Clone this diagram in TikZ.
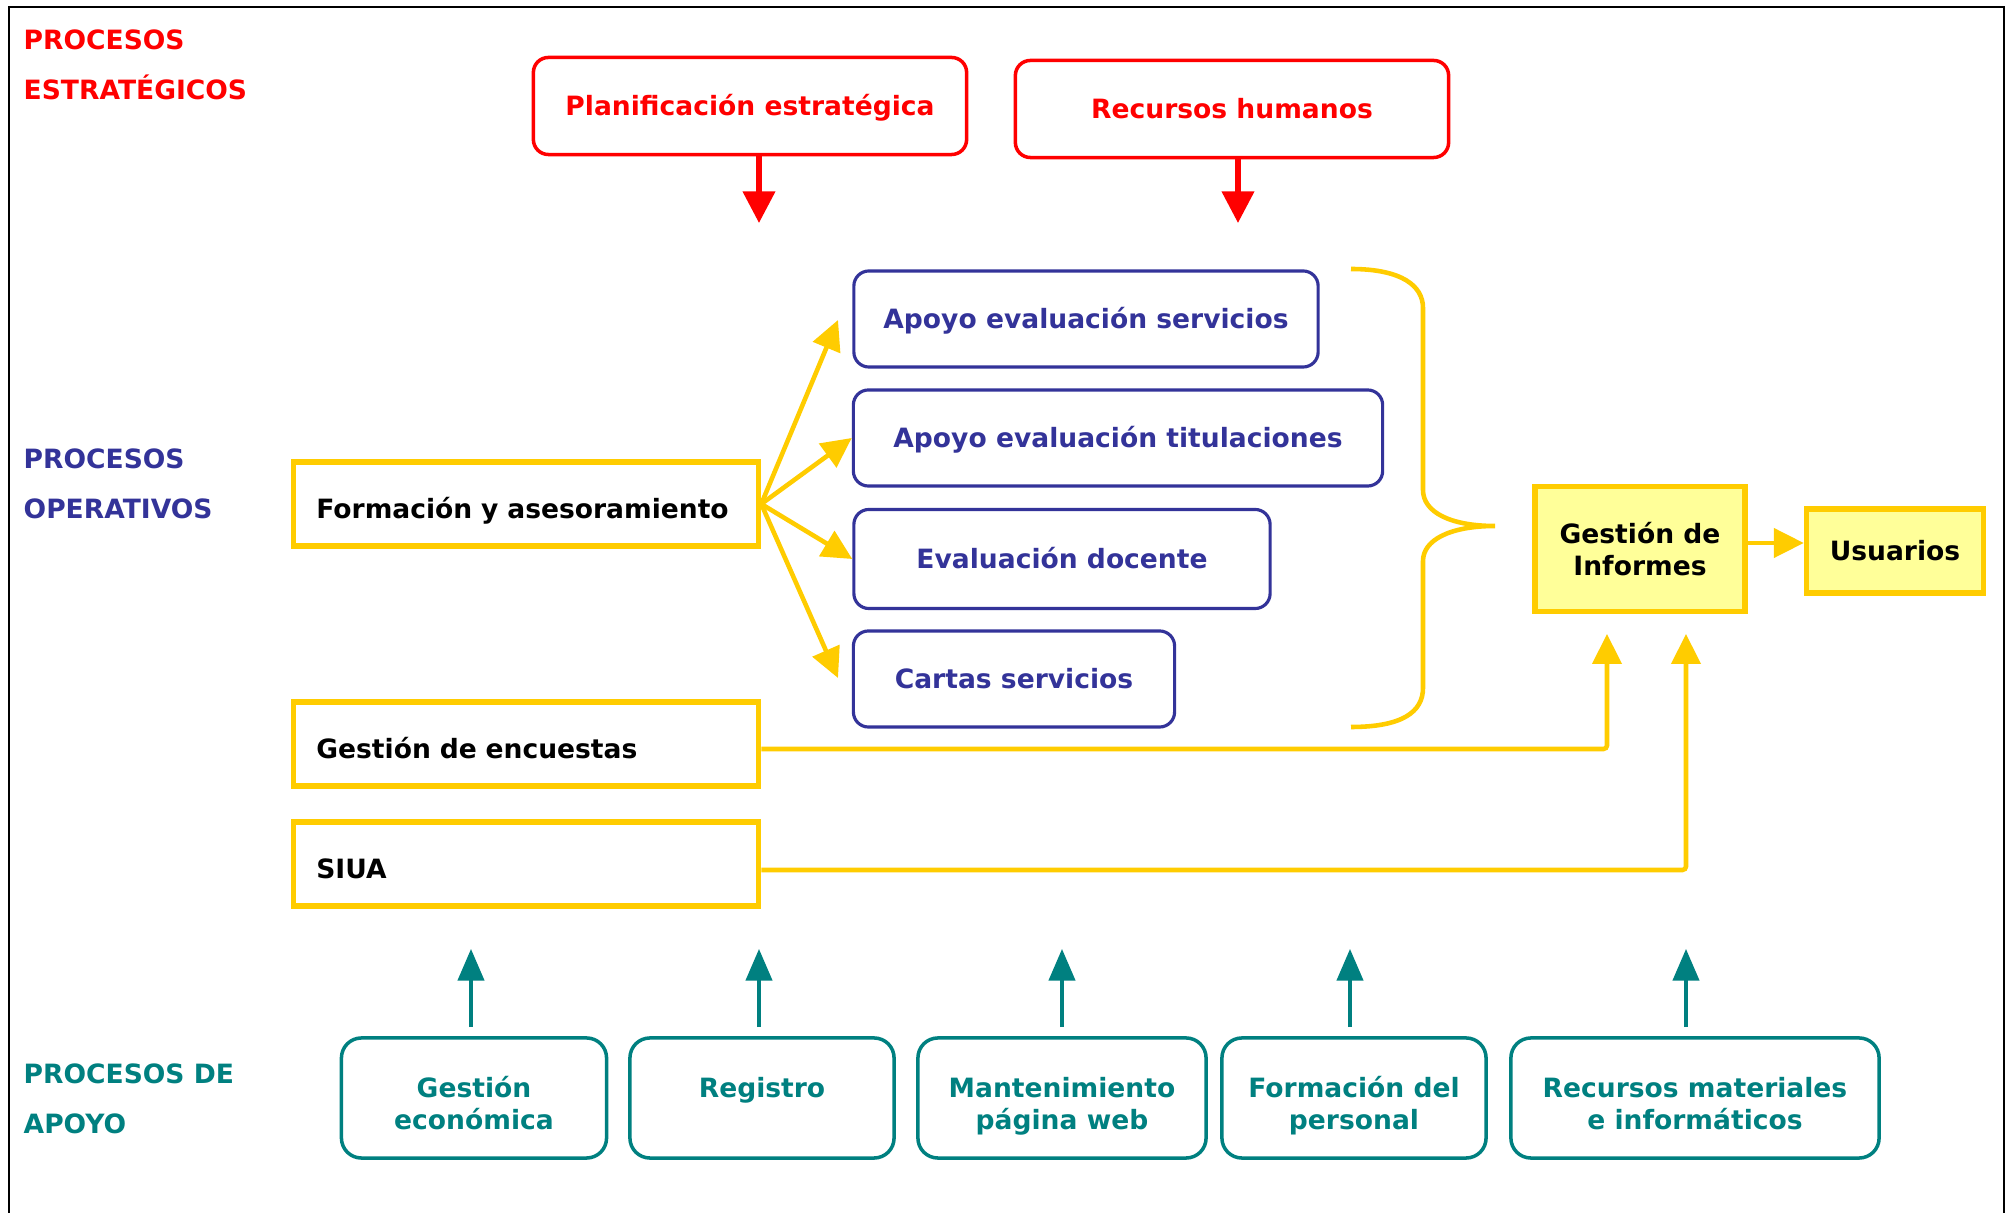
\documentclass[tikz,border=0pt]{standalone}
\usepackage{fontspec}
\setmainfont{DejaVu Sans}
\usepackage{tikz}
\usetikzlibrary{arrows.meta,positioning}
\definecolor{procred}{HTML}{FF0000}
\definecolor{procnavy}{HTML}{333399}
\definecolor{procgold}{HTML}{FFCC00}
\definecolor{procpale}{HTML}{FFFF99}
\definecolor{procteal}{HTML}{008080}
\tikzset{
  boxtext/.style={font=\bfseries\fontsize{7.55}{9.1}\selectfont,align=center,inner sep=0pt},
  grouplab/.style={font=\bfseries\fontsize{7.55}{14.2}\selectfont,align=left,anchor=west,inner sep=0pt},
  estnode/.style={boxtext,draw=procred,text=procred,line width=1pt,rounded corners=1.5mm,minimum width=4.33cm,minimum height=0.97cm,text height=5.5pt,text depth=0pt},
  opnode/.style={boxtext,draw=procnavy,text=procnavy,line width=0.9pt,rounded corners=1.5mm,minimum height=0.96cm,text height=5.5pt,text depth=0pt},
  flownode/.style={boxtext,draw=procgold,line width=1.5pt,text width=4.19cm,inner xsep=0.23cm,align=left,minimum height=0.84cm,text height=8.4pt,text depth=0pt},
  infnode/.style={boxtext,draw=procgold,fill=procpale,line width=1.5pt},
  apnode/.style={boxtext,draw=procteal,text=procteal,line width=1pt,rounded corners=2mm,minimum height=1.2cm,text height=18.2pt,text depth=0pt},
  estedge/.style={-{Triangle[length=9pt,width=9pt]},line width=1.5pt,procred},
  flowedge/.style={-{Triangle[length=8.5pt,width=8.2pt]},line width=1.3pt,procgold},
  apedge/.style={-{Triangle[length=9pt,width=7.5pt]},line width=0.9pt,procteal},
}

\begin{document}
\begin{tikzpicture}[x=0.01cm,y=-0.01cm]
  \useasboundingbox (0,0) rectangle (2011,1213);
  \draw[line width=0.7pt] (9,1213) -- (9,7) -- (2004,7) -- (2004,1213);
  % group labels
  \node[grouplab,text=procred] (lest) at (23,65) {PROCESOS\\ESTRATÉGICOS};
  \node[grouplab,text=procnavy] (lop) at (23,484) {PROCESOS\\OPERATIVOS};
  \node[grouplab,text=procteal] (lap) at (23,1099) {PROCESOS DE\\APOYO};
  % strategic
  \node[estnode] (plan) at (750,106) {Planificación estratégica};
  \node[estnode] (rrhh) at (1232,109) {Recursos humanos};
  \coordinate (tplan) at (759,223);
  \coordinate (trrhh) at (1238,223);
  \draw[estedge] (plan.south -| tplan) -- (tplan);
  \draw[estedge] (rrhh.south -| trrhh) -- (trrhh);
  % operative
  \node[flownode] (form) at (526,504) {Formación y asesoramiento};
  \node[flownode] (genc) at (526,744) {Gestión de encuestas};
  \node[flownode] (siua) at (526,864) {SIUA};
  \node[opnode,minimum width=4.64cm] (aes) at (1086,319) {Apoyo evaluación servicios};
  \node[opnode,minimum width=5.29cm] (aet) at (1118,438) {Apoyo evaluación titulaciones};
  \node[opnode,minimum width=4.16cm,minimum height=0.99cm] (edoc) at (1062,559) {Evaluación docente};
  \node[opnode,minimum width=3.21cm] (cart) at (1014,679) {Cartas servicios};
  \coordinate (taes) at (838,320);
  \coordinate (tcart) at (838,678);
  \draw[flowedge] (form.east) -- (taes);
  \draw[flowedge] (form.east) -- (aet.west);
  \draw[flowedge] (form.east) -- (edoc.west);
  \draw[flowedge] (form.east) -- (tcart);
  \draw[procgold,line width=1.3pt] (1351,269) .. controls (1402,269) and (1423,286) .. (1423,308)
    -- (1423,490) .. controls (1423,512) and (1450,526) .. (1495,526)
    .. controls (1450,526) and (1423,540) .. (1423,561)
    -- (1423,688) .. controls (1423,712) and (1402,727) .. (1351,727);
  \node[infnode,minimum width=2.1cm,minimum height=1.25cm] (ginf) at (1640,549) {Gestión de\\Informes};
  \node[infnode,minimum width=1.77cm,minimum height=0.84cm] (usu) at (1895,551) {Usuarios};
  \draw[flowedge] (ginf.east |- 0,543) -- (usu.west |- 0,543);
  \coordinate (tgenc) at (1607,634);
  \coordinate (tsiua) at (1686,634);
  \draw[flowedge,rounded corners=1pt] (genc.east |- 0,749) -| (tgenc);
  \draw[flowedge,rounded corners=1pt] (siua.east |- 0,870) -| (tsiua);
  % support
  \node[apnode,minimum width=2.65cm] (gec) at (474,1098) {Gestión\\económica};
  \node[apnode,minimum width=2.64cm] (reg) at (762,1098) {Registro\\\mbox{}};
  \node[apnode,minimum width=2.88cm] (mpw) at (1062,1098) {Mantenimiento\\página web};
  \node[apnode,minimum width=2.64cm] (fpe) at (1354,1098) {Formación del\\personal};
  \node[apnode,minimum width=3.68cm] (rmi) at (1695,1098) {Recursos materiales\\e informáticos};
  \foreach \b/\x in {gec/471,reg/759,mpw/1062,fpe/1350,rmi/1686}
    \draw[apedge,shorten <=0.09cm] (\b.north -| \x,0) -- (\x,949);
\end{tikzpicture}
\end{document}
